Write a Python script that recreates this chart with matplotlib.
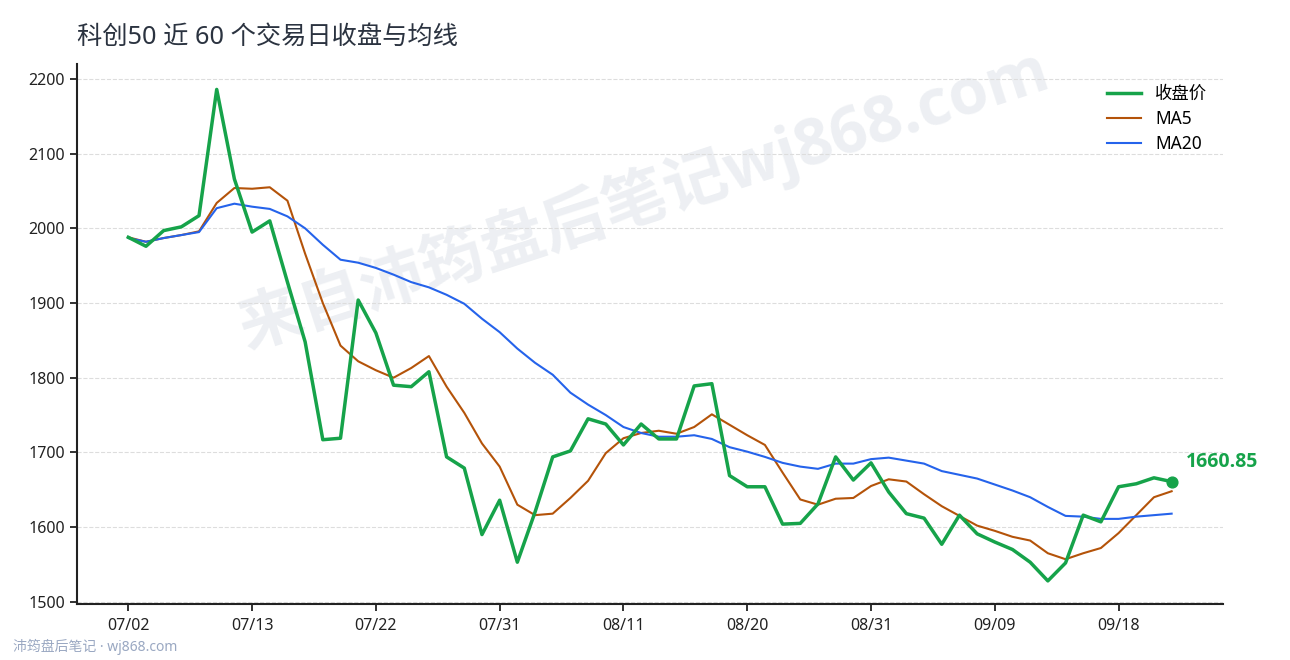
import matplotlib
matplotlib.use("Agg")
import matplotlib.pyplot as plt

plt.rcParams['font.family'] = ['Noto Sans', 'Noto Sans CJK SC', 'DejaVu Sans']
bold_fam = ['Open Sans', 'Noto Sans CJK SC', 'DejaVu Sans']

# 收盘价 (近 60 个交易日)
close = [1988, 1976, 1997, 2002, 2017, 2186, 2066, 1995, 2010, 1928,
         1848, 1717, 1719, 1904, 1860, 1790, 1788, 1808, 1694, 1679,
         1590, 1636, 1553, 1620, 1694, 1702, 1745, 1738, 1710, 1738,
         1718, 1718, 1789, 1792, 1669, 1654, 1654, 1604, 1605, 1631,
         1694, 1663, 1686, 1647, 1618, 1612, 1577, 1616, 1591, 1580,
         1570, 1553, 1528, 1552, 1616, 1607, 1654, 1658, 1666, 1660.85]

ma5 = [1988, 1982, 1987, 1991, 1996, 2034, 2054, 2053, 2055, 2037,
       1966, 1900, 1843, 1822, 1810, 1800, 1813, 1829, 1788, 1753,
       1712, 1681, 1630, 1616, 1618, 1639, 1662, 1699, 1719, 1726,
       1729, 1725, 1734, 1751, 1737, 1723, 1710, 1673, 1637, 1630,
       1638, 1639, 1655, 1664, 1661, 1644, 1628, 1615, 1602, 1595,
       1587, 1582, 1565, 1557, 1565, 1572, 1592, 1616, 1640, 1648]

ma20 = [1987, 1982, 1987, 1991, 1995, 2027, 2033, 2029, 2026, 2016,
        2000, 1978, 1958, 1954, 1947, 1938, 1928, 1921, 1911, 1899,
        1879, 1861, 1839, 1820, 1804, 1780, 1764, 1750, 1734, 1726,
        1721, 1721, 1723, 1718, 1707, 1701, 1694, 1686, 1681, 1678,
        1685, 1685, 1691, 1693, 1689, 1685, 1675, 1670, 1665, 1657,
        1649, 1640, 1627, 1615, 1614, 1611, 1611, 1614, 1616, 1618]

tick_pos = [0, 7, 14, 21, 28, 35, 42, 49, 56]
tick_labels = ["07/02", "07/13", "07/22", "07/31", "08/11",
               "08/20", "08/31", "09/09", "09/18"]

x = list(range(len(close)))

fig = plt.figure(figsize=(12.9, 6.6), dpi=100)
ax = fig.add_axes([0.0597, 0.0848, 0.8883, 0.8182])

# 水印
ax.text(0.495, 0.75, "来自沛筠盘后笔记wj868.com", transform=ax.transAxes,
        fontsize=46, fontweight='bold', family=bold_fam, color='#94a3b8',
        alpha=0.17, rotation=18, ha='center', va='center', zorder=0)

ax.plot(x, close, color='#16a34a', lw=2.5, label='收盘价', zorder=3)
ax.plot(x, ma5, color='#b45309', lw=1.5, label='MA5', zorder=2)
ax.plot(x, ma20, color='#2563eb', lw=1.5, label='MA20', zorder=2)

ax.scatter([x[-1]], [close[-1]], s=60, color='#16a34a', zorder=4)
ax.annotate(f"{close[-1]:.2f}", (x[-1], close[-1]), xytext=(10, 7),
            textcoords='offset points', color='#16a34a', fontsize=14,
            fontweight='bold', family=bold_fam, ha='left', va='bottom')

ax.set_xlim(-2.9, 61.9)
ax.set_ylim(1497, 2220)
ax.set_yticks([1500, 1600, 1700, 1800, 1900, 2000, 2100, 2200])
ax.set_xticks(tick_pos)
ax.set_xticklabels(tick_labels)
ax.tick_params(labelsize=11.5, length=5, width=1.3, colors='#222222')
ax.tick_params(axis='x', pad=5)

ax.grid(axis='y', ls='--', color='#dddddd', lw=0.8)
ax.set_axisbelow(True)
for s in ['top', 'right']:
    ax.spines[s].set_visible(False)
for s in ['left', 'bottom']:
    ax.spines[s].set_linewidth(1.5)
    ax.spines[s].set_color('#222222')

ax.legend(loc='upper right', frameon=False, fontsize=12.5,
          handlelength=2.0, labelspacing=0.4, bbox_to_anchor=(1.0, 0.99))

fig.text(0.0597, 0.944, "科创50 近 60 个交易日收盘与均线", fontsize=18.2,
         color='#2b3340', ha='left', va='center')
fig.text(0.01, 0.007, "沛筠盘后笔记 · wj868.com", fontsize=10,
         color='#9aa8c2', ha='left', va='bottom')

fig.savefig("out.png", dpi=100)
